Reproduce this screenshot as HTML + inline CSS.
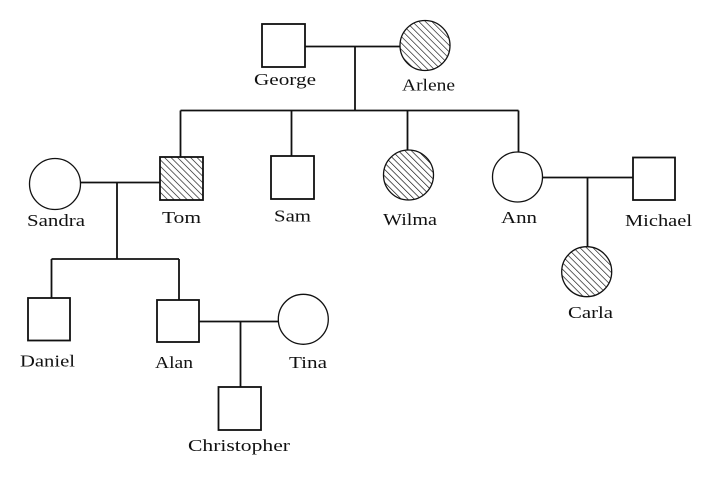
<!DOCTYPE html>
<html><head><meta charset="utf-8"><style>
html,body{margin:0;padding:0;background:#fff;}
svg{display:block;}
text{font-family:"Liberation Serif",serif;font-size:17px;fill:#111;}
</style></head><body>
<svg width="722" height="486" viewBox="0 0 722 486" xmlns="http://www.w3.org/2000/svg">
<defs>
<pattern id="h" patternUnits="userSpaceOnUse" width="4.6" height="4.6" patternTransform="rotate(-45)">
<rect width="4.6" height="4.6" fill="#fff"/>
<line x1="0" y1="0" x2="0" y2="4.6" stroke="#111" stroke-width="1.3"/>
</pattern>
</defs>
<g stroke="#111" stroke-width="1.8" fill="none">
<!-- George - Arlene -->
<line x1="305" y1="46.5" x2="400" y2="46.5"/>
<line x1="355" y1="46.5" x2="355" y2="110.5"/>
<line x1="180.5" y1="110.5" x2="518.5" y2="110.5"/>
<line x1="180.5" y1="110.5" x2="180.5" y2="157"/>
<line x1="291.5" y1="110.5" x2="291.5" y2="156"/>
<line x1="407.5" y1="110.5" x2="407.5" y2="150"/>
<line x1="518.5" y1="110.5" x2="518.5" y2="152"/>
<!-- Sandra - Tom -->
<line x1="80" y1="182.5" x2="160" y2="182.5"/>
<line x1="117" y1="182.5" x2="117" y2="259"/>
<line x1="51.5" y1="259" x2="179" y2="259"/>
<line x1="51.5" y1="259" x2="51.5" y2="298"/>
<line x1="179" y1="259" x2="179" y2="300"/>
<!-- Alan - Tina -->
<line x1="199" y1="321.5" x2="278" y2="321.5"/>
<line x1="240.5" y1="321.5" x2="240.5" y2="387"/>
<!-- Ann - Michael -->
<line x1="543" y1="177.5" x2="633" y2="177.5"/>
<line x1="587.5" y1="177.5" x2="587.5" y2="247"/>
<!-- squares -->
<rect x="262" y="24" width="43" height="43" fill="#fff"/>
<rect x="160" y="157" width="43" height="43" fill="url(#h)"/>
<rect x="271" y="156" width="43" height="43" fill="#fff"/>
<rect x="633" y="157.5" width="42" height="42.5" fill="#fff"/>
<rect x="28" y="298" width="42" height="42.5" fill="#fff"/>
<rect x="157" y="300" width="42" height="42" fill="#fff"/>
<rect x="218.5" y="387" width="42.5" height="43" fill="#fff"/>
</g>
<g stroke="#111" stroke-width="1.3">
<circle cx="425" cy="45.5" r="25" fill="url(#h)"/>
<circle cx="55" cy="184" r="25.5" fill="#fff"/>
<circle cx="408.5" cy="175" r="25" fill="url(#h)"/>
<circle cx="517.5" cy="177" r="25" fill="#fff"/>
<circle cx="586.7" cy="271.7" r="25" fill="url(#h)"/>
<circle cx="303.3" cy="319.3" r="25" fill="#fff"/>
</g>
<g>
<text x="254" y="85" textLength="62" lengthAdjust="spacingAndGlyphs">George</text>
<text x="402" y="90.5" textLength="53" lengthAdjust="spacingAndGlyphs">Arlene</text>
<text x="27" y="226" textLength="58" lengthAdjust="spacingAndGlyphs">Sandra</text>
<text x="162" y="223" textLength="39" lengthAdjust="spacingAndGlyphs">Tom</text>
<text x="274" y="221.5" textLength="37" lengthAdjust="spacingAndGlyphs">Sam</text>
<text x="383" y="225" textLength="54" lengthAdjust="spacingAndGlyphs">Wilma</text>
<text x="501" y="223" textLength="36" lengthAdjust="spacingAndGlyphs">Ann</text>
<text x="625" y="226" textLength="67" lengthAdjust="spacingAndGlyphs">Michael</text>
<text x="568" y="318" textLength="45" lengthAdjust="spacingAndGlyphs">Carla</text>
<text x="20" y="366.5" textLength="55" lengthAdjust="spacingAndGlyphs">Daniel</text>
<text x="155" y="368" textLength="38" lengthAdjust="spacingAndGlyphs">Alan</text>
<text x="289" y="368" textLength="38" lengthAdjust="spacingAndGlyphs">Tina</text>
<text x="188" y="451" textLength="102" lengthAdjust="spacingAndGlyphs">Christopher</text>
</g>
</svg>
</body></html>
